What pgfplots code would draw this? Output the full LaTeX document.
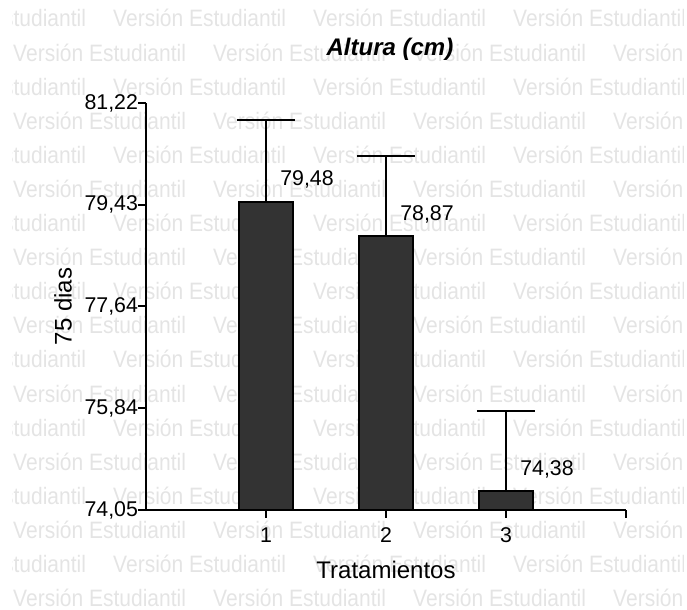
\documentclass[border=0pt]{standalone}
\usepackage{fontspec}
\setmainfont{Liberation Sans}
\usepackage{pgfplots}
\usepackage{pgfplotstable}
\pgfplotsset{compat=1.18}
\definecolor{barfill}{HTML}{333333}
\definecolor{wm}{HTML}{E4E4E4}

\pgfplotstableread{
x y err
1 79.48 1.44
2 78.87 1.42
3 74.38 1.41
}\datatable

\begin{document}
\begin{tikzpicture}
% background watermark
\begin{scope}[x=0.75pt,y=0.75pt]
\clip (-133,510) rectangle (537,-100);
\foreach \k in {0,...,17}{
  \pgfmathsetmacro{\yy}{510-(27+34.1*\k)}
  \pgfmathsetmacro{\xo}{-87+100*mod(\k,2)}
  \foreach \j in {0,...,3}{
    \node[anchor=base west, inner sep=0pt, xscale=0.885, text=wm,
          font=\fontsize{17.8}{20}\selectfont]
      at ({\xo+200*\j-146},\yy) {Versión Estudiantil};
  }
}
\end{scope}

\begin{axis}[
  at={(0pt,0pt)}, anchor=south west,
  scale only axis, width=360pt, height=305.25pt,
  xmin=0, xmax=4, ymin=74.05, ymax=81.22,
  axis lines*=left,
  axis on top,
  axis line style={line width=1.5pt, black},
  tick align=outside, major tick length=6pt,
  tick style={line width=1.5pt, black},
  xtick={1,2,3,4}, xticklabels={1,2,3,{}},
  ytick={74.05,75.8425,77.635,79.4275,81.22},
  yticklabels={{74,05},{75,84},{77,64},{79,43},{81,22}},
  ticklabel style={font=\fontsize{16}{19}\selectfont},
  xticklabel style={yshift=-3.5pt},
  yticklabel style={xshift=3.5pt},
  /pgf/number format/assume math mode=true,
  title={Altura (cm)},
  every axis title/.style={at={(axis description cs:0.5083,1.1155)}, anchor=base, inner sep=0pt,
    font=\fontsize{18}{21}\selectfont\bfseries\itshape},
  xlabel={Tratamientos},
  every axis x label/.style={at={(axis description cs:0.5,-0.1671)}, anchor=base, inner sep=0pt,
    font=\fontsize{18}{21}\selectfont},
  ylabel={75 dias},
  every axis y label/.style={at={(axis description cs:-0.155,0.5)}, rotate=90, anchor=base, inner sep=0pt,
    font=\fontsize{18}{21}\selectfont},
]
\addplot[ybar, bar width=40.5pt, fill=barfill, draw=black, line width=1.5pt,
  point meta=y,
  nodes near coords,
  nodes near coords style={anchor=base west, inner sep=0pt, xshift=10pt, yshift=12pt,
    font=\fontsize{16}{19}\selectfont, text=black,
    /pgf/number format/.cd, use comma, fixed, fixed zerofill, precision=2},
  error bars/.cd, y dir=plus, y explicit,
  error bar style={line width=1.5pt, black},
  error mark options={line width=1.5pt, mark size=21.75pt, black, rotate=90}]
  table[x=x, y=y, y error=err]{\datatable};
\end{axis}
\pgfresetboundingbox
\useasboundingbox (-109.5pt,-75pt) rectangle (405.75pt,382.5pt);
\end{tikzpicture}
\end{document}
